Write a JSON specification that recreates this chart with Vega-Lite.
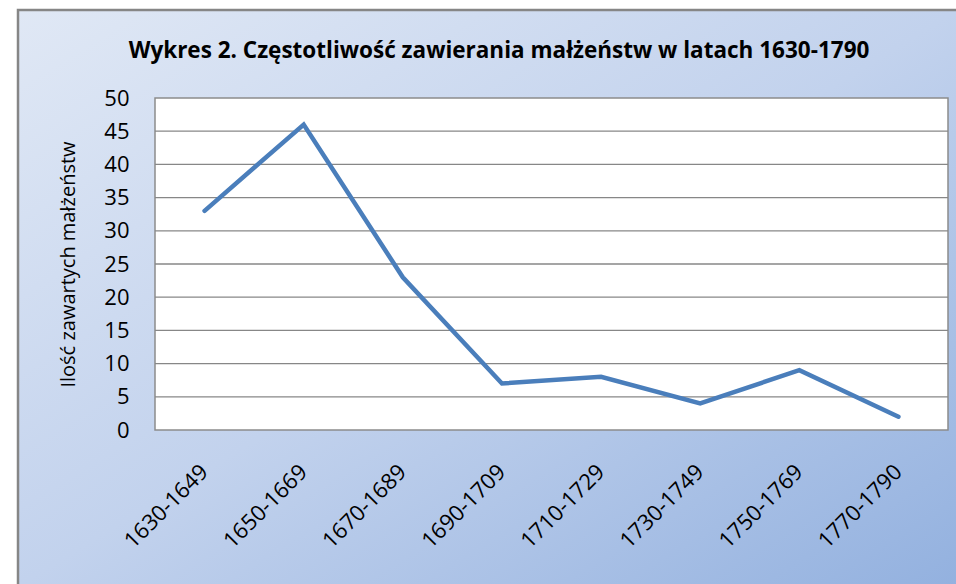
{
  "$schema": "https://vega.github.io/schema/vega-lite/v6.json",
  "width": 940,
  "height": 576,
  "autosize": {"type": "none"},
  "padding": {"left": 18, "top": 10, "right": 0, "bottom": 0},
  "background": "white",
  "title": {
    "text": "Wykres 2. Częstotliwość zawierania małżeństw w latach 1630-1790",
    "font": "Open Sans",
    "fontSize": 22.5,
    "fontWeight": "bold",
    "color": "#000000",
    "anchor": "middle",
    "frame": "group",
    "orient": "top",
    "baseline": "alphabetic",
    "offset": -70,
    "dx": 11
  },
  "config": {
    "view": {
      "fill": {
        "gradient": "linear",
        "x1": 0, "y1": 0, "x2": 1, "y2": 1,
        "stops": [
          {"offset": 0, "color": "#e0e8f5"},
          {"offset": 0.5, "color": "#c2d2ed"},
          {"offset": 1, "color": "#93b1df"}
        ]
      },
      "stroke": "#868686",
      "strokeWidth": 2.5
    },
    "axis": {
      "labelFont": "Open Sans",
      "titleFont": "Open Sans",
      "labelColor": "#000000",
      "titleColor": "#000000"
    }
  },
  "data": {
    "values": [
      {"okres": "1630-1649", "n": 33},
      {"okres": "1650-1669", "n": 46},
      {"okres": "1670-1689", "n": 23},
      {"okres": "1690-1709", "n": 7},
      {"okres": "1710-1729", "n": 8},
      {"okres": "1730-1749", "n": 4},
      {"okres": "1750-1769", "n": 9},
      {"okres": "1770-1790", "n": 2}
    ]
  },
  "layer": [
    {
      "data": {"values": [{"ramka": "obszar"}]},
      "mark": {"type": "rect", "fill": "#ffffff", "stroke": "#8c8c8c", "strokeWidth": 1.5},
      "encoding": {
        "x": {
          "datum": "1630-1649",
          "type": "ordinal",
          "bandPosition": 0,
          "scale": {
            "type": "band",
            "domain": ["1630-1649", "1650-1669", "1670-1689", "1690-1709", "1710-1729", "1730-1749", "1750-1769", "1770-1790"],
            "range": [137, 930],
            "paddingInner": 0,
            "paddingOuter": 0
          },
          "axis": {
            "title": null,
            "orient": "bottom",
            "offset": -156,
            "domain": false,
            "ticks": false,
            "grid": false,
            "labelAngle": -45,
            "labelAlign": "right",
            "labelBaseline": "middle",
            "labelFontSize": 22,
            "labelPadding": 38
          }
        },
        "x2": {"datum": "1770-1790", "bandPosition": 1},
        "y": {
          "datum": 0,
          "type": "quantitative",
          "scale": {"domain": [0, 50], "range": [420, 88], "nice": false, "zero": false},
          "axis": {
            "title": "Ilość zawartych małżeństw",
            "orient": "left",
            "offset": -137,
            "values": [0, 5, 10, 15, 20, 25, 30, 35, 40, 45, 50],
            "domain": false,
            "ticks": false,
            "grid": false,
            "labelFontSize": 22,
            "labelPadding": 26,
            "titleFontSize": 20,
            "titleFontWeight": "normal",
            "titlePadding": 25
          }
        },
        "y2": {"datum": 50}
      }
    },
    {
      "data": {"values": [{"v": 5}, {"v": 10}, {"v": 15}, {"v": 20}, {"v": 25}, {"v": 30}, {"v": 35}, {"v": 40}, {"v": 45}]},
      "mark": {"type": "rule", "stroke": "#878787", "strokeWidth": 1.3},
      "encoding": {
        "x": {"datum": "1630-1649", "type": "ordinal", "bandPosition": 0},
        "x2": {"datum": "1770-1790", "bandPosition": 1},
        "y": {"field": "v", "type": "quantitative"}
      }
    },
    {
      "mark": {"type": "line", "color": "#4a7ebb", "strokeWidth": 4.5, "strokeCap": "round", "strokeJoin": "miter"},
      "encoding": {
        "x": {"field": "okres", "type": "ordinal", "sort": null, "bandPosition": 0.5},
        "y": {"field": "n", "type": "quantitative"}
      }
    }
  ]
}
